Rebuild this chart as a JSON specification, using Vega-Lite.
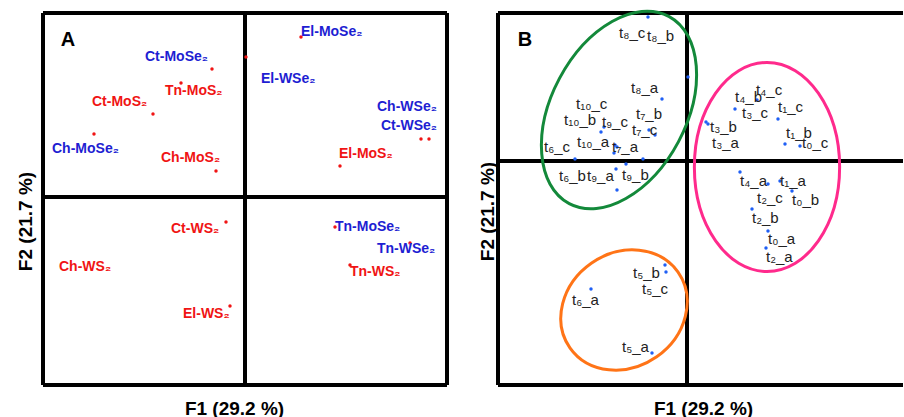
{
  "$schema": "https://vega.github.io/schema/vega-lite/v6.json",
  "padding": {"left": 16, "top": 5, "right": 0, "bottom": 0},
  "spacing": 29,
  "config": {
    "view": {"stroke": null},
    "font": "Liberation Sans",
    "axis": {"labels": false, "ticks": false, "domain": false, "grid": false, "titleFontSize": 19, "titleFontWeight": "bold", "titleColor": "#000", "titleFont": "Liberation Sans"}
  },
  "datasets": {
    "A": [
      {"name": "Ct-MoSe₂", "g": "Se", "x": -0.33, "y": 1.28, "lx": -1.00, "ly": 1.40},
      {"name": "Tn-MoS₂", "g": "S", "x": -0.64, "y": 1.14, "lx": -0.80, "ly": 1.06},
      {"name": "Ct-MoS₂", "g": "S", "x": -0.92, "y": 0.83, "lx": -1.53, "ly": 0.95},
      {"name": "Ch-MoSe₂", "g": "Se", "x": -1.51, "y": 0.63, "lx": -1.93, "ly": 0.48},
      {"name": "Ch-MoS₂", "g": "S", "x": -0.29, "y": 0.26, "lx": -0.84, "ly": 0.39},
      {"name": "El-MoSe₂", "g": "Se", "x": 0.56, "y": 1.60, "lx": 0.56, "ly": 1.65},
      {"name": "El-WSe₂", "g": "Se", "x": 0.01, "y": 1.40, "lx": 0.16, "ly": 1.18},
      {"name": "Ch-WSe₂", "g": "Se", "x": 1.76, "y": 0.58, "lx": 1.32, "ly": 0.90},
      {"name": "Ct-WSe₂", "g": "Se", "x": 1.84, "y": 0.58, "lx": 1.36, "ly": 0.71},
      {"name": "El-MoS₂", "g": "S", "x": 0.95, "y": 0.31, "lx": 0.94, "ly": 0.43},
      {"name": "Ct-WS₂", "g": "S", "x": -0.19, "y": -0.25, "lx": -0.74, "ly": -0.32},
      {"name": "Ch-WS₂", "g": "S", "x": null, "y": null, "lx": -1.86, "ly": -0.70},
      {"name": "El-WS₂", "g": "S", "x": -0.15, "y": -1.09, "lx": -0.62, "ly": -1.17},
      {"name": "Tn-MoSe₂", "g": "Se", "x": 0.90, "y": -0.30, "lx": 0.90, "ly": -0.30},
      {"name": "Tn-WSe₂", "g": "Se", "x": 1.65, "y": -0.46, "lx": 1.32, "ly": -0.52},
      {"name": "Tn-WS₂", "g": "S", "x": 1.05, "y": -0.68, "lx": 1.05, "ly": -0.75}
    ],
    "Bdots": [
      {"x": -0.39, "y": 1.44}, {"x": 0.01, "y": 0.84}, {"x": -0.25, "y": 0.62},
      {"x": -0.83, "y": 0.34}, {"x": -0.86, "y": 0.29}, {"x": -0.38, "y": 0.31},
      {"x": -0.32, "y": 0.26}, {"x": -1.12, "y": 0.02}, {"x": -0.72, "y": 0.16},
      {"x": -0.70, "y": 0.14}, {"x": -0.73, "y": 0.08}, {"x": -0.44, "y": 0.02},
      {"x": -0.71, "y": -0.08}, {"x": -0.61, "y": -0.03}, {"x": -0.70, "y": -0.29},
      {"x": 0.70, "y": 0.61}, {"x": 0.48, "y": 0.52}, {"x": 0.91, "y": 0.42},
      {"x": 0.19, "y": 0.39}, {"x": 0.21, "y": 0.37}, {"x": 0.98, "y": 0.17},
      {"x": 1.13, "y": 0.15}, {"x": 0.53, "y": -0.11}, {"x": 0.81, "y": -0.23},
      {"x": 0.93, "y": -0.20}, {"x": 1.05, "y": -0.30}, {"x": 0.65, "y": -0.48},
      {"x": 0.81, "y": -0.70}, {"x": 0.79, "y": -0.87}, {"x": -0.22, "y": -1.04},
      {"x": -0.21, "y": -1.11}, {"x": -0.96, "y": -1.28}, {"x": -0.35, "y": -1.92}
    ],
    "Blabels": [
      {"label": "t₈_c", "lx": -0.68, "ly": 1.28},
      {"label": "t₈_b", "lx": -0.40, "ly": 1.25},
      {"label": "t₈_a", "lx": -0.56, "ly": 0.73},
      {"label": "t₁₀_c", "lx": -1.11, "ly": 0.57},
      {"label": "t₇_b", "lx": -0.51, "ly": 0.47},
      {"label": "t₁₀_b", "lx": -1.23, "ly": 0.41},
      {"label": "t₉_c", "lx": -0.85, "ly": 0.39},
      {"label": "t₇_c", "lx": -0.55, "ly": 0.31},
      {"label": "t₆_c", "lx": -1.43, "ly": 0.14},
      {"label": "t₁₀_a", "lx": -1.10, "ly": 0.19},
      {"label": "t₇_a", "lx": -0.75, "ly": 0.14},
      {"label": "t₆_b", "lx": -1.28, "ly": -0.15},
      {"label": "t₉_a", "lx": -1.00, "ly": -0.15},
      {"label": "t₉_b", "lx": -0.65, "ly": -0.14},
      {"label": "t₄_c", "lx": 0.69, "ly": 0.71},
      {"label": "t₄_b", "lx": 0.48, "ly": 0.64},
      {"label": "t₃_c", "lx": 0.55, "ly": 0.48},
      {"label": "t₁_c", "lx": 0.91, "ly": 0.54},
      {"label": "t₃_b", "lx": 0.23, "ly": 0.34},
      {"label": "t₃_a", "lx": 0.25, "ly": 0.18},
      {"label": "t₁_b", "lx": 0.99, "ly": 0.28},
      {"label": "t₀_c", "lx": 1.15, "ly": 0.18},
      {"label": "t₄_a", "lx": 0.53, "ly": -0.20},
      {"label": "t₁_a", "lx": 0.93, "ly": -0.20},
      {"label": "t₂_c", "lx": 0.70, "ly": -0.37},
      {"label": "t₀_b", "lx": 1.05, "ly": -0.39},
      {"label": "t₂_b", "lx": 0.65, "ly": -0.57},
      {"label": "t₀_a", "lx": 0.81, "ly": -0.78},
      {"label": "t₂_a", "lx": 0.79, "ly": -0.96},
      {"label": "t₅_b", "lx": -0.54, "ly": -1.12},
      {"label": "t₅_c", "lx": -0.45, "ly": -1.28},
      {"label": "t₆_a", "lx": -1.15, "ly": -1.39},
      {"label": "t₅_a", "lx": -0.65, "ly": -1.86}
    ],
    "ell": [
      {"id": "green", "x": -0.68, "y": 0.51},
      {"id": "pink", "x": 0.80, "y": -0.06},
      {"id": "orange", "x": -0.63, "y": -1.49}
    ]
  },
  "hconcat": [
    {
      "width": 404,
      "height": 372,
      "layer": [
        {
          "data": {"values": [{"v": -2.02}, {"v": 0}, {"v": 2.02}]},
          "mark": {"type": "rule", "strokeWidth": 4, "color": "#000"},
          "encoding": {
            "x": {"field": "v", "type": "quantitative", "scale": {"domain": [-2.02, 2.02], "nice": false, "zero": false}, "axis": {"title": "F1 (29.2 %)", "titlePadding": 14, "titleX": 191}}
          }
        },
        {
          "data": {"values": [{"v": 1.84}, {"v": 0}, {"v": -1.88}]},
          "mark": {"type": "rule", "strokeWidth": 4, "color": "#000"},
          "encoding": {
            "y": {"field": "v", "type": "quantitative", "scale": {"domain": [-1.88, 1.84], "nice": false, "zero": false}, "axis": {"title": "F2 (21.7 %)", "titlePadding": 8, "titleY": 208}}
          }
        },
        {
          "data": {"name": "A"},
          "mark": {"type": "point", "filled": true, "size": 12, "color": "#f01414", "opacity": 1},
          "encoding": {
            "x": {"field": "x", "type": "quantitative", "scale": {"domain": [-2.02, 2.02], "nice": false, "zero": false}, "axis": {"title": "F1 (29.2 %)", "titlePadding": 14, "titleX": 191}},
            "y": {"field": "y", "type": "quantitative", "scale": {"domain": [-1.88, 1.84], "nice": false, "zero": false}, "axis": {"title": "F2 (21.7 %)", "titlePadding": 8, "titleY": 208}}
          }
        },
        {
          "data": {"name": "A"},
          "mark": {"type": "text", "align": "left", "baseline": "middle", "fontSize": 14, "fontWeight": "bold", "font": "Liberation Sans"},
          "encoding": {
            "x": {"field": "lx", "type": "quantitative", "scale": {"domain": [-2.02, 2.02], "nice": false, "zero": false}, "axis": {"title": "F1 (29.2 %)", "titlePadding": 14, "titleX": 191}},
            "y": {"field": "ly", "type": "quantitative", "scale": {"domain": [-1.88, 1.84], "nice": false, "zero": false}, "axis": {"title": "F2 (21.7 %)", "titlePadding": 8, "titleY": 208}},
            "text": {"field": "name"},
            "color": {"field": "g", "type": "nominal", "scale": {"domain": ["Se", "S"], "range": ["#1e1ed2", "#f01414"]}, "legend": null}
          }
        },
        {
          "data": {"values": [{"t": "A", "x": -1.77, "y": 1.57}]},
          "mark": {"type": "text", "align": "center", "baseline": "middle", "fontSize": 20, "fontWeight": "bold", "color": "#000"},
          "encoding": {
            "x": {"field": "x", "type": "quantitative", "scale": {"domain": [-2.02, 2.02], "nice": false, "zero": false}, "axis": {"title": "F1 (29.2 %)", "titlePadding": 14, "titleX": 191}},
            "y": {"field": "y", "type": "quantitative", "scale": {"domain": [-1.88, 1.84], "nice": false, "zero": false}, "axis": {"title": "F2 (21.7 %)", "titlePadding": 8, "titleY": 208}},
            "text": {"field": "t"}
          }
        }
      ]
    },
    {
      "width": 405,
      "height": 372,
      "layer": [
        {
          "data": {"values": [{"v": -1.89}, {"v": 0}]},
          "mark": {"type": "rule", "strokeWidth": 4, "color": "#000"},
          "encoding": {
            "x": {"field": "v", "type": "quantitative", "scale": {"domain": [-1.89, 2.16], "nice": false, "zero": false}, "axis": {"title": "F1 (29.2 %)", "titlePadding": 14, "titleX": 205}}
          }
        },
        {
          "data": {"values": [{"v": 1.48}, {"v": 0}, {"v": -2.24}]},
          "mark": {"type": "rule", "strokeWidth": 4, "color": "#000"},
          "encoding": {
            "y": {"field": "v", "type": "quantitative", "scale": {"domain": [-2.24, 1.48], "nice": false, "zero": false}, "axis": {"title": "F2 (21.7 %)", "titlePadding": 1, "titleY": 198}}
          }
        },
        {
          "data": {"name": "ell"},
          "transform": [{"filter": "datum.id == 'green'"}],
          "mark": {"type": "point", "filled": false, "stroke": "#13893a", "strokeWidth": 3, "opacity": 1, "size": 44944, "angle": 28, "shape": "M0,-1C0.351,-1,0.636,-0.552,0.636,0C0.636,0.552,0.351,1,0,1C-0.351,1,-0.636,0.552,-0.636,0C-0.636,-0.552,-0.351,-1,0,-1Z"},
          "encoding": {
            "x": {"field": "x", "type": "quantitative", "scale": {"domain": [-1.89, 2.16], "nice": false, "zero": false}, "axis": {"title": "F1 (29.2 %)", "titlePadding": 14, "titleX": 205}},
            "y": {"field": "y", "type": "quantitative", "scale": {"domain": [-2.24, 1.48], "nice": false, "zero": false}, "axis": {"title": "F2 (21.7 %)", "titlePadding": 1, "titleY": 198}}
          }
        },
        {
          "data": {"name": "ell"},
          "transform": [{"filter": "datum.id == 'pink'"}],
          "mark": {"type": "point", "filled": false, "stroke": "#ff2a8c", "strokeWidth": 3, "opacity": 1, "size": 43681, "angle": 0, "shape": "M0,-1C0.384,-1,0.695,-0.552,0.695,0C0.695,0.552,0.384,1,0,1C-0.384,1,-0.695,0.552,-0.695,0C-0.695,-0.552,-0.384,-1,0,-1Z"},
          "encoding": {
            "x": {"field": "x", "type": "quantitative", "scale": {"domain": [-1.89, 2.16], "nice": false, "zero": false}, "axis": {"title": "F1 (29.2 %)", "titlePadding": 14, "titleX": 205}},
            "y": {"field": "y", "type": "quantitative", "scale": {"domain": [-2.24, 1.48], "nice": false, "zero": false}, "axis": {"title": "F2 (21.7 %)", "titlePadding": 1, "titleY": 198}}
          }
        },
        {
          "data": {"name": "ell"},
          "transform": [{"filter": "datum.id == 'orange'"}],
          "mark": {"type": "point", "filled": false, "stroke": "#ff7417", "strokeWidth": 3, "opacity": 1, "size": 17424, "angle": 55, "shape": "M0,-1C0.477,-1,0.864,-0.552,0.864,0C0.864,0.552,0.477,1,0,1C-0.477,1,-0.864,0.552,-0.864,0C-0.864,-0.552,-0.477,-1,0,-1Z"},
          "encoding": {
            "x": {"field": "x", "type": "quantitative", "scale": {"domain": [-1.89, 2.16], "nice": false, "zero": false}, "axis": {"title": "F1 (29.2 %)", "titlePadding": 14, "titleX": 205}},
            "y": {"field": "y", "type": "quantitative", "scale": {"domain": [-2.24, 1.48], "nice": false, "zero": false}, "axis": {"title": "F2 (21.7 %)", "titlePadding": 1, "titleY": 198}}
          }
        },
        {
          "data": {"name": "Bdots"},
          "mark": {"type": "point", "filled": true, "size": 12, "color": "#1f5ff5", "opacity": 1},
          "encoding": {
            "x": {"field": "x", "type": "quantitative", "scale": {"domain": [-1.89, 2.16], "nice": false, "zero": false}, "axis": {"title": "F1 (29.2 %)", "titlePadding": 14, "titleX": 205}},
            "y": {"field": "y", "type": "quantitative", "scale": {"domain": [-2.24, 1.48], "nice": false, "zero": false}, "axis": {"title": "F2 (21.7 %)", "titlePadding": 1, "titleY": 198}}
          }
        },
        {
          "data": {"name": "Blabels"},
          "mark": {"type": "text", "align": "left", "baseline": "middle", "fontSize": 15, "color": "#222", "font": "Liberation Sans"},
          "encoding": {
            "x": {"field": "lx", "type": "quantitative", "scale": {"domain": [-1.89, 2.16], "nice": false, "zero": false}, "axis": {"title": "F1 (29.2 %)", "titlePadding": 14, "titleX": 205}},
            "y": {"field": "ly", "type": "quantitative", "scale": {"domain": [-2.24, 1.48], "nice": false, "zero": false}, "axis": {"title": "F2 (21.7 %)", "titlePadding": 1, "titleY": 198}},
            "text": {"field": "label"}
          }
        },
        {
          "data": {"values": [{"t": "B", "x": -1.62, "y": 1.21}]},
          "mark": {"type": "text", "align": "center", "baseline": "middle", "fontSize": 20, "fontWeight": "bold", "color": "#000"},
          "encoding": {
            "x": {"field": "x", "type": "quantitative", "scale": {"domain": [-1.89, 2.16], "nice": false, "zero": false}, "axis": {"title": "F1 (29.2 %)", "titlePadding": 14, "titleX": 205}},
            "y": {"field": "y", "type": "quantitative", "scale": {"domain": [-2.24, 1.48], "nice": false, "zero": false}, "axis": {"title": "F2 (21.7 %)", "titlePadding": 1, "titleY": 198}},
            "text": {"field": "t"}
          }
        }
      ]
    }
  ]
}
